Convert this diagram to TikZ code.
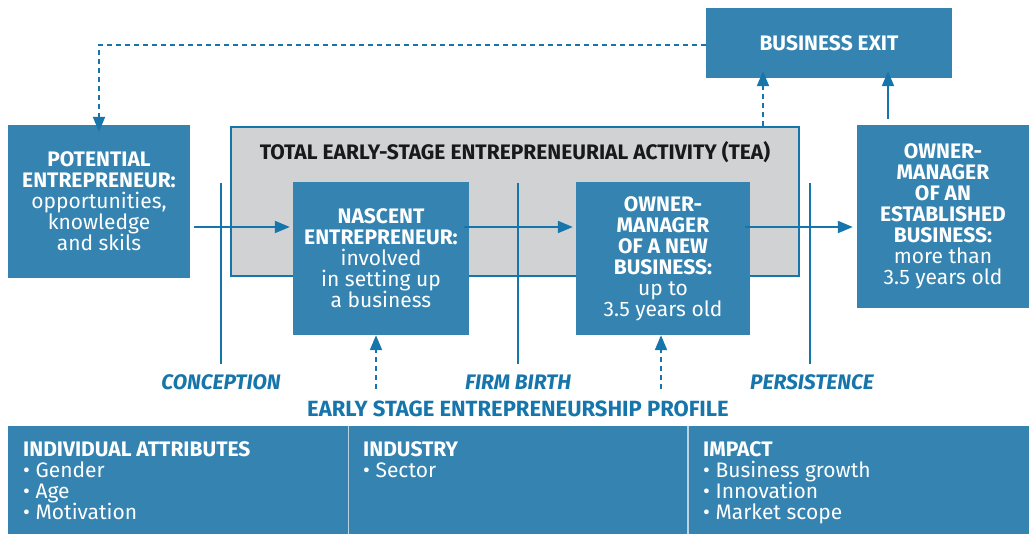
\documentclass[tikz,border=0pt]{standalone}
\usepackage{fontspec}
\setmainfont{Fira Sans}
\usetikzlibrary{arrows.meta}
\definecolor{boxblue}{HTML}{3483B0}
\definecolor{linblue}{HTML}{1675AA}
\definecolor{teagrey}{HTML}{D1D2D4}
\definecolor{divline}{HTML}{B9D3E4}
\newcommand\bxfont{\fontsize{21}{21}\selectfont}
\newcommand\proffont{\fontsize{22}{22}\selectfont}
\begin{document}
\begin{tikzpicture}[x=1pt,y=-1pt,
  bx/.style={fill=boxblue,text=white,align=center,inner sep=0pt,font=\bxfont},
  arr/.style={draw=linblue,line width=2pt,-{Triangle[length=15pt,width=12pt]}},
  darr/.style={arr,dash pattern=on 5pt off 4pt},
  vline/.style={draw=linblue,line width=2pt},
  lbl/.style={text=linblue,font=\bxfont\bfseries\itshape,inner sep=0pt},
  coltext/.style={text=white,align=left,anchor=north west,inner sep=0pt,font=\bxfont}
]
\useasboundingbox (0,0) rectangle (1029,534);
% TEA background box
\node[draw=linblue,line width=2pt,fill=teagrey,minimum width=568pt,minimum height=149pt,inner sep=0pt] (tea) at (515,201.5) {};
\node[font=\bxfont\bfseries,text=black!90,inner sep=0pt] (teatitle) at (515,152) {TOTAL EARLY-STAGE ENTREPRENEURIAL ACTIVITY (TEA)};
% boxes
\node[bx,minimum width=246pt,minimum height=70pt] (exit) at (829,43) {\textbf{BUSINESS EXIT}};
\node[bx,minimum width=182pt,minimum height=153pt] (pot) at (99,201.5) {\textbf{POTENTIAL}\\\textbf{ENTREPRENEUR:}\\opportunities,\\knowledge\\and skils};
\node[bx,minimum width=176pt,minimum height=153pt] (nasc) at (381,258.5) {\textbf{NASCENT}\\\textbf{ENTREPRENEUR:}\\involved\\in setting up\\a business};
\node[bx,minimum width=174pt,minimum height=153pt] (new) at (663,258.5) {\textbf{OWNER-}\\\textbf{MANAGER}\\\textbf{OF A NEW}\\\textbf{BUSINESS:}\\up to\\3.5 years old};
\node[bx,minimum width=172pt,minimum height=183pt] (est) at (943,216.5) {\textbf{OWNER-}\\\textbf{MANAGER}\\\textbf{OF AN}\\\textbf{ESTABLISHED}\\\textbf{BUSINESS:}\\more than\\3.5 years old};
% vertical stage lines
\coordinate (ltop1) at (221,183); \coordinate (lbot1) at (221,364);
\coordinate (ltop2) at (518,183); \coordinate (lbot2) at (518,364);
\coordinate (ltop3) at (810,183); \coordinate (lbot3) at (810,364);
\draw[vline] (ltop1) -- (lbot1);
\draw[vline] (ltop2) -- (lbot2);
\draw[vline] (ltop3) -- (lbot3);
% horizontal flow arrows
\coordinate (flow) at (0,227);
\draw[arr] ([xshift=4pt]pot.east|-flow) -- ([xshift=-3pt]nasc.west|-flow);
\draw[arr] ([xshift=-5pt]nasc.east|-flow) -- ([xshift=-3pt]new.west|-flow);
\draw[arr] ([xshift=-5pt]new.east|-flow) -- ([xshift=-4pt]est.west|-flow);
% exits
\coordinate (teaexit) at (763,126);
\coordinate (estexit) at (888,119);
\draw[darr] (teaexit) -- ([yshift=7pt]exit.south-|teaexit);
\draw[arr] (estexit) -- ([yshift=7pt]exit.south-|estexit);
\coordinate (retcorner) at (99,45);
\draw[darr] (exit.west|-retcorner) -- (retcorner) -- ([yshift=-7pt]pot.north);
% stage labels
\node[lbl] (conc) at (221,382) {CONCEPTION};
\node[lbl] (birth) at (518,382) {FIRM BIRTH};
\node[lbl] (pers) at (812,382) {PERSISTENCE};
\node[text=linblue,font=\proffont\bfseries,inner sep=0pt] (profile) at (518,409) {EARLY STAGE ENTREPRENEURSHIP PROFILE};
% profile arrows
\coordinate (p1) at (376,389);
\coordinate (p2) at (661,389);
\draw[darr] (p1) -- (nasc.south-|p1);
\draw[darr] (p2) -- (new.south-|p2);
% bottom band
\node[fill=boxblue,minimum width=1021pt,minimum height=108pt,inner sep=0pt] (band) at (518.5,480) {};
\coordinate (d1t) at (348.5,426); \coordinate (d1b) at (348.5,534);
\coordinate (d2t) at (688,426); \coordinate (d2b) at (688,534);
\draw[divline,line width=1.5pt] (d1t) -- (d1b);
\draw[divline,line width=1.5pt] (d2t) -- (d2b);
\node[coltext] (c1) at (23,441) {\textbf{INDIVIDUAL ATTRIBUTES}\\• Gender\\• Age\\• Motivation};
\node[coltext] (c2) at (363,441) {\textbf{INDUSTRY}\\• Sector};
\node[coltext] (c3) at (703,441) {\textbf{IMPACT}\\• Business growth\\• Innovation\\• Market scope};
\end{tikzpicture}
\end{document}
